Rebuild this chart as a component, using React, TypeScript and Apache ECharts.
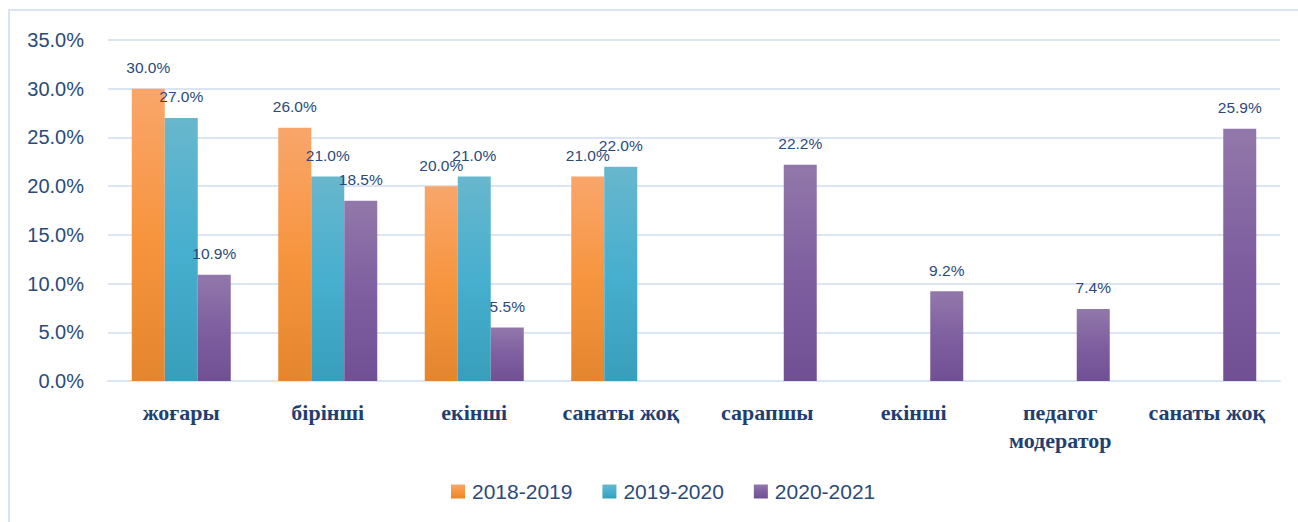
import React, { useEffect, useRef } from "react";
import * as echarts from "echarts";

const categories = ["жоғары", "бірінші", "екінші", "санаты жоқ", "сарапшы", "екінші", "педагог\nмодератор", "санаты жоқ"];
const seriesNames = ["2018-2019", "2019-2020", "2020-2021"];
const values2018 = [30.0, 26.0, 20.0, 21.0, null, null, null, null];
const values2019 = [27.0, 21.0, 21.0, 22.0, null, null, null, null];
const values2020 = [10.9, 18.5, 5.5, null, 22.2, 9.2, 7.4, 25.9];
const yTicks = { min: 0, max: 35, interval: 5 };

const grad = (a: string, b: string, c: string) =>
  new echarts.graphic.LinearGradient(0, 0, 0, 1, [
    { offset: 0, color: a },
    { offset: 0.5, color: b },
    { offset: 1, color: c },
  ]);

export default function App() {
  const ref = useRef<HTMLDivElement>(null);
  useEffect(() => {
    if (!ref.current) return;
    const chart = echarts.init(ref.current, undefined, { renderer: "svg" });
    const labelColor = "#2A4A7B";
    const colors = [
      grad("#F9A66B", "#F7953F", "#E4862E"),
      grad("#68B7CD", "#47AFCF", "#389EBC"),
      grad("#9278AA", "#7F5FA0", "#714F94"),
    ];
    const data = [values2018, values2019, values2020];
    chart.setOption({
      animation: false,
      backgroundColor: "#FFFFFF",
      graphic: [
        {
          type: "rect",
          shape: { x: 9, y: 10, width: 1400, height: 600 },
          style: { fill: "none", stroke: "#DAE3F3", lineWidth: 2 },
          silent: true,
        },
      ],
      grid: { left: 108, right: 18, top: 40, bottom: 141, containLabel: false },
      legend: {
        data: seriesNames,
        bottom: 15,
        left: 446,
        icon: "rect",
        itemWidth: 14,
        itemHeight: 14,
        itemGap: 30,
        textStyle: { fontSize: 21, color: labelColor, fontFamily: "Liberation Sans", padding: [0, 0, 0, 2] },
      },
      xAxis: {
        type: "category",
        data: categories,
        axisLine: { show: true, lineStyle: { color: "#DCE5F4", width: 2 } },
        axisTick: { show: false },
        axisLabel: {
          margin: 17,
          fontSize: 22,
          fontWeight: "bold",
          fontFamily: "Liberation Serif",
          color: "#1F3F73",
          lineHeight: 28,
          interval: 0,
        },
      },
      yAxis: {
        type: "value",
        min: yTicks.min,
        max: yTicks.max,
        interval: yTicks.interval,
        axisLine: { show: false },
        axisTick: { show: false },
        splitLine: { lineStyle: { color: "#DCE5F4", width: 2 } },
        axisLabel: {
          margin: 24,
          fontSize: 20,
          fontFamily: "Liberation Sans",
          color: labelColor,
          formatter: (v: number) => `${v.toFixed(1)}%`,
        },
      },
      series: seriesNames.map((name, i) => ({
        name,
        type: "bar",
        data: data[i],
        barWidth: 33,
        barGap: "0%",
        itemStyle: { color: colors[i] },
        label: {
          show: true,
          position: "top",
          distance: 13,
          fontSize: 15.5,
          fontFamily: "Liberation Sans",
          color: labelColor,
          formatter: (p: any) => (p.value == null ? "" : `${Number(p.value).toFixed(1)}%`),
        },
      })),
    });
    return () => chart.dispose();
  }, []);
  return (
    <div
      ref={ref}
      style={{ position: "absolute", left: 0, top: 0, width: 1298, height: 522 }}
    />
  );
}
